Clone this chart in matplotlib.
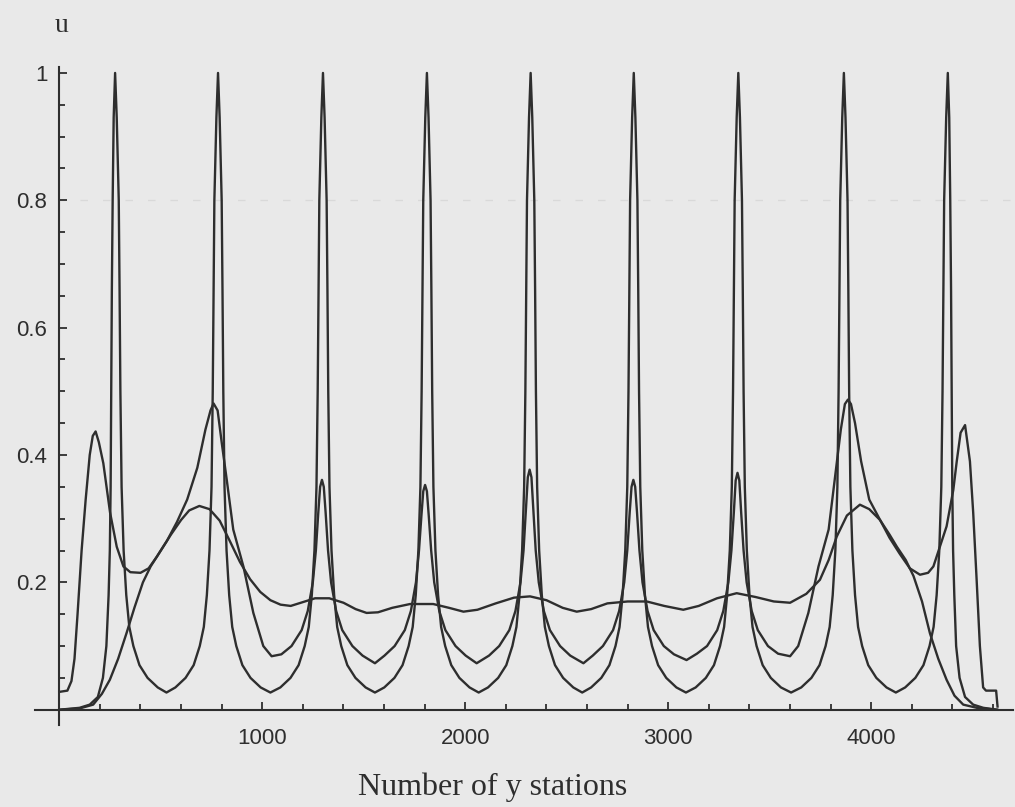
import matplotlib.pyplot as plt
from matplotlib.ticker import FixedLocator

# sharp resonance curve (peaks reach 1), one row per spike
sharp_x = [0, 100, 150, 190, 215, 232, 243, 249, 253, 256, 259, 263, 268, 275,
           283, 293, 297, 301, 307, 317, 330, 345, 365, 395, 435, 485, 528,
           572, 622, 662, 692, 712, 727, 740, 750, 756, 760, 764, 774, 782,
           790, 800, 804, 808, 814, 824, 837, 852, 872, 902, 942, 992, 1040,
           1089, 1139, 1179, 1209, 1229, 1244, 1257, 1267, 1273, 1277, 1281, 1291, 1299,
           1307, 1317, 1321, 1325, 1331, 1341, 1354, 1369, 1389, 1419, 1459, 1509, 1555,
           1601, 1651, 1691, 1721, 1741, 1756, 1769, 1779, 1785, 1789, 1793, 1803, 1811,
           1819, 1829, 1833, 1837, 1843, 1853, 1866, 1881, 1901, 1931, 1971, 2021, 2066,
           2112, 2162, 2202, 2232, 2252, 2267, 2280, 2290, 2296, 2300, 2304, 2314, 2322,
           2330, 2340, 2344, 2348, 2354, 2364, 2377, 2392, 2412, 2442, 2482, 2532, 2576,
           2620, 2670, 2710, 2740, 2760, 2775, 2788, 2798, 2804, 2808, 2812, 2822, 2830,
           2838, 2848, 2852, 2856, 2862, 2872, 2885, 2900, 2920, 2950, 2990, 3040, 3087,
           3135, 3185, 3225, 3255, 3275, 3290, 3303, 3313, 3319, 3323, 3327, 3337, 3345,
           3353, 3363, 3367, 3371, 3377, 3387, 3400, 3415, 3435, 3465, 3505, 3555, 3605,
           3655, 3705, 3745, 3775, 3795, 3810, 3823, 3833, 3839, 3843, 3847, 3857, 3865,
           3873, 3883, 3887, 3891, 3897, 3907, 3920, 3935, 3955, 3985, 4025, 4075, 4121,
           4167, 4217, 4257, 4287, 4307, 4322, 4335, 4345, 4351, 4355, 4359, 4369, 4377,
           4384, 4389, 4393, 4396, 4399, 4403, 4409, 4418, 4435, 4462, 4502, 4552, 4620]
sharp_u = [0.0, 0.003, 0.008, 0.02, 0.05, 0.1, 0.18, 0.25, 0.35, 0.5, 0.66, 0.8, 0.93, 1.0,
           0.93, 0.8, 0.66, 0.5, 0.35, 0.25, 0.18, 0.13, 0.1, 0.07, 0.05, 0.035, 0.027,
           0.035, 0.05, 0.07, 0.1, 0.13, 0.18, 0.25, 0.35, 0.5, 0.66, 0.8, 0.93, 1.0,
           0.93, 0.8, 0.66, 0.5, 0.35, 0.25, 0.18, 0.13, 0.1, 0.07, 0.05, 0.035, 0.027,
           0.035, 0.05, 0.07, 0.1, 0.13, 0.18, 0.25, 0.35, 0.5, 0.66, 0.8, 0.93, 1.0,
           0.93, 0.8, 0.66, 0.5, 0.35, 0.25, 0.18, 0.13, 0.1, 0.07, 0.05, 0.035, 0.027,
           0.035, 0.05, 0.07, 0.1, 0.13, 0.18, 0.25, 0.35, 0.5, 0.66, 0.8, 0.93, 1.0,
           0.93, 0.8, 0.66, 0.5, 0.35, 0.25, 0.18, 0.13, 0.1, 0.07, 0.05, 0.035, 0.027,
           0.035, 0.05, 0.07, 0.1, 0.13, 0.18, 0.25, 0.35, 0.5, 0.66, 0.8, 0.93, 1.0,
           0.93, 0.8, 0.66, 0.5, 0.35, 0.25, 0.18, 0.13, 0.1, 0.07, 0.05, 0.035, 0.027,
           0.035, 0.05, 0.07, 0.1, 0.13, 0.18, 0.25, 0.35, 0.5, 0.66, 0.8, 0.93, 1.0,
           0.93, 0.8, 0.66, 0.5, 0.35, 0.25, 0.18, 0.13, 0.1, 0.07, 0.05, 0.035, 0.027,
           0.035, 0.05, 0.07, 0.1, 0.13, 0.18, 0.25, 0.35, 0.5, 0.66, 0.8, 0.93, 1.0,
           0.93, 0.8, 0.66, 0.5, 0.35, 0.25, 0.18, 0.13, 0.1, 0.07, 0.05, 0.035, 0.027,
           0.035, 0.05, 0.07, 0.1, 0.13, 0.18, 0.25, 0.35, 0.5, 0.66, 0.8, 0.93, 1.0,
           0.93, 0.8, 0.66, 0.5, 0.35, 0.25, 0.18, 0.13, 0.1, 0.07, 0.05, 0.035, 0.027,
           0.035, 0.05, 0.07, 0.1, 0.13, 0.18, 0.25, 0.35, 0.5, 0.66, 0.8, 0.93, 1.0,
           0.93, 0.8, 0.66, 0.5, 0.35, 0.25, 0.18, 0.1, 0.05, 0.02, 0.008, 0.003, 0.0]

# medium curve (peaks around 0.35 - 0.49)
mid_x = [0, 40, 60, 75, 90, 110, 130, 150, 165, 179, 195, 217, 250, 283, 316,
         350, 400, 440, 480, 530, 580, 630, 680, 720, 745, 760, 780, 800, 825,
         857, 907, 956, 1005, 1046,
         1094, 1144, 1194, 1224, 1249, 1264, 1276, 1285, 1294,
         1303, 1312, 1324, 1339, 1364, 1394, 1444, 1494, 1555,
         1602, 1652, 1702, 1732, 1757, 1772, 1784, 1793, 1802,
         1811, 1820, 1832, 1847, 1872, 1902, 1952, 2002, 2056,
         2117, 2167, 2217, 2247, 2272, 2287, 2299, 2308, 2317,
         2326, 2335, 2347, 2362, 2387, 2417, 2467, 2517, 2582,
         2628, 2678, 2728, 2758, 2783, 2798, 2810, 2819, 2828,
         2837, 2846, 2858, 2873, 2898, 2928, 2978, 3028, 3090,
         3141, 3191, 3241, 3271, 3296, 3311, 3323, 3332, 3341,
         3350, 3359, 3371, 3386, 3411, 3441, 3491, 3541, 3600,
         3640, 3690, 3740, 3790, 3820, 3850, 3870, 3885, 3900, 3920, 3950,
         3990, 4040, 4090, 4140, 4190, 4240, 4280, 4306, 4338, 4371, 4404,
         4421, 4440, 4462, 4486, 4502, 4519, 4535, 4551, 4565, 4615, 4622]
mid_u = [0.028, 0.03, 0.045, 0.08, 0.15, 0.25, 0.33, 0.40, 0.43, 0.437, 0.42,
         0.387, 0.31, 0.256, 0.225, 0.216, 0.215, 0.222, 0.24, 0.265, 0.295,
         0.33, 0.38, 0.44, 0.47, 0.481, 0.47, 0.42, 0.361, 0.283, 0.225, 0.152,
         0.1, 0.084,
         0.087, 0.1, 0.125, 0.155, 0.2, 0.25, 0.31, 0.35, 0.361,
         0.35, 0.31, 0.25, 0.2, 0.155, 0.125, 0.1, 0.085, 0.073,
         0.085, 0.1, 0.125, 0.155, 0.2, 0.25, 0.305, 0.343, 0.353,
         0.343, 0.305, 0.25, 0.2, 0.155, 0.125, 0.1, 0.085, 0.073,
         0.085, 0.1, 0.125, 0.155, 0.2, 0.25, 0.315, 0.365, 0.377,
         0.365, 0.315, 0.25, 0.2, 0.155, 0.125, 0.1, 0.085, 0.073,
         0.085, 0.1, 0.125, 0.155, 0.2, 0.25, 0.31, 0.35, 0.361,
         0.35, 0.31, 0.25, 0.2, 0.155, 0.125, 0.1, 0.087, 0.078,
         0.088, 0.1, 0.125, 0.155, 0.2, 0.25, 0.31, 0.36, 0.372,
         0.36, 0.31, 0.25, 0.2, 0.155, 0.125, 0.1, 0.088, 0.084,
         0.1, 0.152, 0.225, 0.283, 0.361, 0.44, 0.48, 0.487, 0.48, 0.45, 0.39,
         0.33, 0.3, 0.27, 0.245, 0.222, 0.212, 0.215, 0.225, 0.256, 0.288, 0.345,
         0.39, 0.435, 0.447, 0.39, 0.31, 0.204, 0.1, 0.035, 0.03, 0.03, 0.005]

# broad curve (flat middle, humps near both ends)
broad_x = [0, 100, 167, 210, 249, 290, 331, 370, 412, 450, 500, 550, 600, 640,
           690, 740, 790, 840, 890, 940, 990, 1040, 1090, 1140, 1190, 1260, 1330,
           1400, 1460, 1514, 1570, 1640, 1728, 1842, 1920, 1991, 2060, 2150, 2240,
           2319, 2400, 2480, 2549, 2620, 2700, 2800, 2894, 2980, 3074, 3150, 3240,
           3337, 3430, 3520, 3600, 3680, 3747, 3790, 3830, 3880, 3944, 3990, 4043,
           4090, 4126, 4170, 4208, 4250, 4289, 4330, 4371, 4410, 4453, 4520, 4620]
broad_u = [0.0, 0.002, 0.008, 0.025, 0.047, 0.08, 0.12, 0.16, 0.2, 0.225, 0.25,
           0.275, 0.298, 0.313, 0.32, 0.315, 0.297, 0.265, 0.232, 0.205, 0.185,
           0.172, 0.165, 0.163, 0.168, 0.175, 0.175, 0.168, 0.158, 0.152, 0.153,
           0.16, 0.166, 0.166, 0.16, 0.154, 0.157, 0.167, 0.176, 0.178, 0.172,
           0.16, 0.154, 0.158, 0.167, 0.17, 0.17, 0.163, 0.157, 0.163, 0.175,
           0.183, 0.177, 0.17, 0.168, 0.182, 0.204, 0.235, 0.272, 0.305, 0.322,
           0.315, 0.298, 0.275, 0.256, 0.235, 0.21, 0.17, 0.12, 0.08, 0.047,
           0.022, 0.008, 0.003, 0.0]

x_major = [1000, 2000, 3000, 4000]
x_minor = list(range(200, 4700, 200))
y_major = [0.2, 0.4, 0.6, 0.8, 1.0]
y_labels = ['0.2', '0.4', '0.6', '0.8', '1']
y_minor = [i * 0.05 for i in range(1, 21)]

bg = '#e9e9e9'
ink = '#2e2e2e'

fig = plt.figure(figsize=(10.15, 8.07), dpi=100, facecolor=bg)
ax = fig.add_axes([0.0344, 0.1016, 0.964, 0.8159])
ax.set_facecolor(bg)

ax.axhline(0.8, color='#d9d9d9', lw=0.9, dashes=(6, 12), zorder=0)

for xs, us in [(broad_x, broad_u), (mid_x, mid_u), (sharp_x, sharp_u)]:
    ax.plot(xs, us, color=ink, lw=1.7)

ax.set_xlim(-120, 4700)
ax.set_ylim(-0.024, 1.01)

for side in ['top', 'right']:
    ax.spines[side].set_visible(False)
for side in ['left', 'bottom']:
    ax.spines[side].set_position(('data', 0))
    ax.spines[side].set_color(ink)
    ax.spines[side].set_linewidth(1.5)

ax.xaxis.set_major_locator(FixedLocator(x_major))
ax.xaxis.set_minor_locator(FixedLocator(x_minor))
ax.yaxis.set_major_locator(FixedLocator(y_major))
ax.yaxis.set_minor_locator(FixedLocator(y_minor))
ax.set_yticklabels(y_labels)

ax.tick_params(which='both', direction='in', color=ink, width=1.3,
               labelsize=16, labelcolor=ink)
ax.tick_params(which='major', length=6)
ax.tick_params(which='minor', length=4.2)
ax.tick_params(axis='y', pad=8.5)
ax.tick_params(axis='x', pad=13)
for lab in ax.get_xticklabels() + ax.get_yticklabels():
    lab.set_family('Liberation Sans')

fig.text(493 / 1015, 1 - 787 / 807, 'Number of y stations', ha='center',
         va='center', family='Liberation Serif', size=23, color=ink)
fig.text(62 / 1015, 1 - 25 / 807, 'u', ha='center', va='center',
         family='Liberation Serif', size=20, color=ink)

fig.savefig('out.png', dpi=100, facecolor=bg)
